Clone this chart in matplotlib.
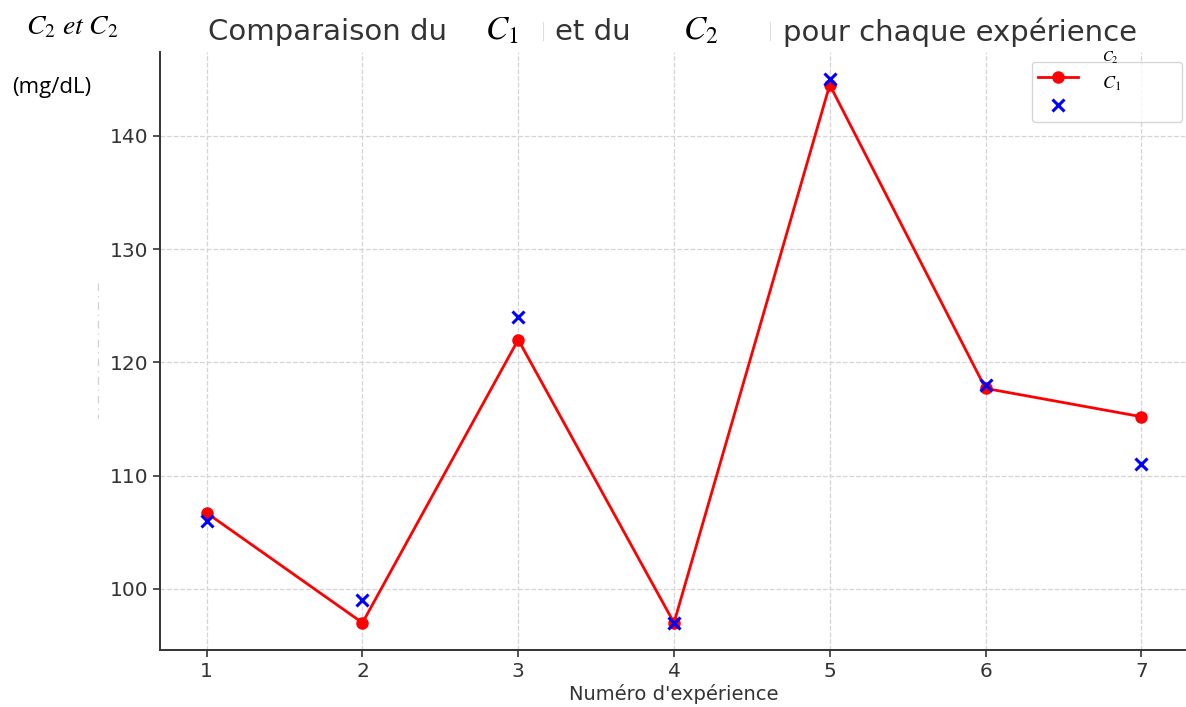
import matplotlib
matplotlib.use("Agg")
import matplotlib.pyplot as plt
from matplotlib.lines import Line2D

# Mesures par expérience (mg/dL)
experiences = [1, 2, 3, 4, 5, 6, 7]
c1_values = [106.7, 97.0, 122.0, 97.0, 144.5, 117.7, 115.2]
c2_values = [106.0, 99.0, 124.0, 97.0, 145.0, 118.0, 111.0]

plt.rcParams['mathtext.fontset'] = 'stix'

W, H = 1186, 707
fig = plt.figure(figsize=(W / 100, H / 100), dpi=100)

def px(x, y):
    # pixel position -> figure fraction
    return x / W, 1 - y / H

ax = fig.add_axes([160 / W, (H - 650) / H, 1028 / W, 598 / H])

ax.plot(experiences, c1_values, '-o', color='red', lw=2.0, ms=8)
ax.plot(experiences, c2_values, 'x', color='blue', ms=8, mew=2.2)

ax.set_xticks(experiences)
ax.set_yticks([100, 110, 120, 130, 140])
ax.grid(True, ls='--', color='#d4d4d4', lw=0.9)
ax.set_axisbelow(True)
for side in ('top', 'right'):
    ax.spines[side].set_visible(False)
for side in ('left', 'bottom'):
    ax.spines[side].set_color('#333333')
    ax.spines[side].set_linewidth(1.4)
ax.tick_params(labelsize=14.5, colors='#333333', length=5, width=1.2)
ax.set_xlabel("Numéro d'expérience", fontsize=14, color='#333333', labelpad=2)

# titre en plusieurs morceaux
title_kw = dict(fontsize=21, color='#333333', va='center')
fig.text(*px(208, 32), "Comparaison du", **title_kw)
fig.text(*px(555, 32), "et du", **title_kw)
fig.text(*px(783, 32), "pour chaque expérience", **title_kw)
math_kw = dict(fontsize=24, color='black', va='center')
fig.text(*px(485, 30), "$C_1$", **math_kw)
fig.text(*px(683, 30), "$C_2$", **math_kw)
for xb in (543, 770):
    fig.add_artist(Line2D([xb / W, xb / W], [1 - 22 / H, 1 - 40 / H],
                          color='#dddddd', lw=0.8))

# étiquette de l'axe y
fig.text(*px(26, 26), "$C_2\\ et\\ C_2$", fontsize=20, color='black', va='center')
fig.text(*px(12, 88), "(mg/dL)", fontsize=16, family='Open Sans', color='black', va='center')
fig.add_artist(Line2D([98 / W, 98 / W], [1 - 283 / H, 1 - 418 / H],
                      color='#d0d0d0', lw=0.9, ls=(0, (6, 4, 1, 4))))

# légende
handles = [Line2D([], [], color='red', marker='o', lw=2.0, ms=8),
           Line2D([], [], color='blue', marker='x', ls='none', ms=8, mew=2.2)]
leg = fig.legend(handles, ['                ', '                '],
                 loc='upper left', bbox_to_anchor=px(1032, 62),
                 fontsize=12, frameon=True, borderaxespad=0,
                 handlelength=2.4, labelspacing=0.65, borderpad=0.38)
leg.get_frame().set_edgecolor('#cccccc')
leg.get_frame().set_linewidth(1.0)
leg.set_zorder(2)
fig.text(*px(1102, 84), "$C_1$", fontsize=13, color='black', va='center', zorder=5)
fig.text(*px(1102, 58), "$C_2$", fontsize=10.5, color='black', va='center', zorder=5)

fig.savefig("out.png", dpi=100)
